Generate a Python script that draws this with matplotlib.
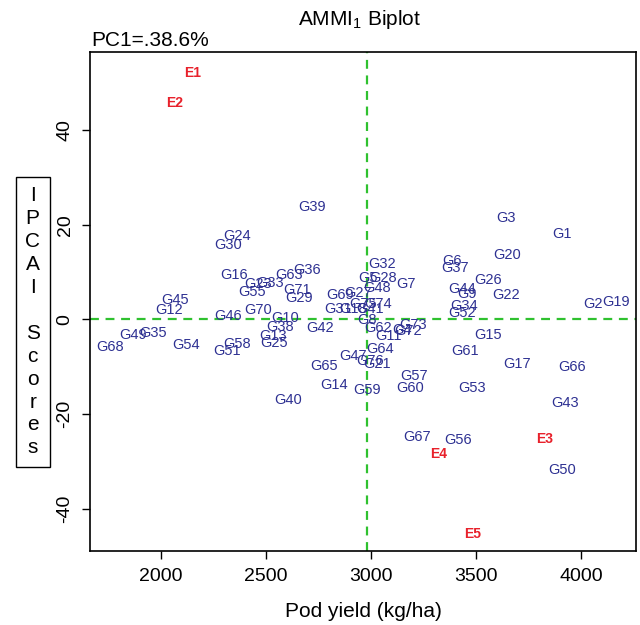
import matplotlib
matplotlib.use("Agg")
import matplotlib.pyplot as plt

plt.rcParams["font.family"] = ["Liberation Sans", "DejaVu Sans"]
plt.rcParams["mathtext.fontset"] = "custom"
plt.rcParams["mathtext.rm"] = "Liberation Sans"
plt.rcParams["mathtext.it"] = "Liberation Sans"
plt.rcParams["axes.unicode_minus"] = False

# genotype labels with mean pod yield and IPCA1 score
gen_labels = ["G1", "G2", "G3", "G4", "G5", "G6", "G7", "G8", "G9", "G10",
              "G11", "G12", "G13", "G14", "G15", "G16", "G17", "G18", "G19", "G20",
              "G21", "G22", "G23", "G24", "G25", "G26", "G27", "G28", "G29", "G30",
              "G31", "G32", "G33", "G34", "G35", "G36", "G37", "G38", "G39", "G40",
              "G41", "G42", "G43", "G44", "G45", "G46", "G47", "G48", "G49", "G50",
              "G51", "G52", "G53", "G54", "G55", "G56", "G57", "G58", "G59", "G60",
              "G61", "G62", "G63", "G64", "G65", "G66", "G67", "G68", "G69", "G70",
              "G71", "G72", "G73", "G74", "G75", "G76"]
gen_yield = [3910, 4057, 3643, 3148, 2986, 3386, 3167, 2981, 3457, 2590,
             3081, 2038, 2533, 2824, 3557, 2348, 3695, 2914, 4167, 3648,
             3029, 3643, 2462, 2362, 2538, 3557, 2938, 3057, 2657, 2319,
             2843, 3052, 2519, 3443, 1962, 2695, 3400, 2567, 2719, 2605,
             2995, 2757, 3924, 3433, 2067, 2319, 2914, 3029, 1867, 3910,
             2314, 3433, 3481, 2119, 2433, 3414, 3205, 2362, 2981, 3186,
             3448, 3033, 2610, 3043, 2776, 3957, 3219, 1757, 2852, 2462,
             2648, 3176, 3200, 3033, 2962, 2995]
gen_ipca = [18.1, 3.2, 21.3, -2.3, 8.8, 12.4, 7.4, -0.2, 5.3, 0.2,
            -3.6, 1.9, -3.6, -13.9, -3.4, 9.3, -9.5, 2.1, 3.6, 13.5,
            -9.5, 5.1, 7.4, 17.7, -5.1, 8.2, 5.5, 8.8, 4.4, 15.6,
            2.1, 11.6, 7.6, 2.9, -2.9, 10.5, 10.9, -1.7, 23.8, -17.1,
            2.1, -1.9, -17.7, 6.5, 4.0, 0.6, -7.8, 6.7, -3.4, -31.8,
            -6.7, 1.3, -14.5, -5.5, 5.7, -25.5, -12.0, -5.3, -14.9, -14.5,
            -6.7, -1.9, 9.3, -6.3, -9.9, -10.1, -24.8, -5.9, 5.1, 1.9,
            6.1, -2.5, -1.1, 3.2, 3.2, -8.8]

# environments
env_labels = ["E1", "E2", "E3", "E4", "E5"]
env_yield = [2152, 2062, 3824, 3319, 3481]
env_ipca = [52.0, 45.7, -25.3, -28.4, -45.3]

grand_mean = 2982
x_ticks = [2000, 2500, 3000, 3500, 4000]
y_ticks = [-40, -20, 0, 20, 40]

fig = plt.figure(figsize=(6.4, 6.25), dpi=100)
ax = fig.add_axes([0.141, 0.118, 0.853, 0.799])

ax.set_xlim(1662, 4262)
ax.set_ylim(-49, 56.5)

# reference lines at grand mean and zero IPCA
ax.axvline(grand_mean, color="#2fc12f", linestyle=(0, (4, 3)), linewidth=1.6, zorder=1)
ax.axhline(0, color="#2fc12f", linestyle=(0, (4, 3)), linewidth=1.6, zorder=1)

for lab, x, y in zip(gen_labels, gen_yield, gen_ipca):
    ax.text(x, y, lab, color="#2e3192", fontsize=10.5, ha="center", va="center", zorder=3)

for lab, x, y in zip(env_labels, env_yield, env_ipca):
    ax.text(x, y, lab, color="#e8212b", fontsize=10, fontweight="bold",
            ha="center", va="center", zorder=3)

ax.set_xticks(x_ticks)
ax.set_yticks(y_ticks)
ax.tick_params(direction="out", length=6, width=1, labelsize=14, pad=6)
for t in ax.get_yticklabels():
    t.set_rotation(90)
    t.set_va("center")
for s in ax.spines.values():
    s.set_linewidth(1.2)

ax.set_xlabel("Pod yield (kg/ha)", fontsize=15, labelpad=12)

fig.text(0.5625, 0.969, "AMMI$_1$ Biplot", fontsize=15, ha="center", va="center")
fig.text(0.143, 0.936, "PC1=.38.6%", fontsize=15, ha="left", va="center")

fig.text(0.051, 0.485, "I\nP\nC\nA\nI\n\nS\nc\no\nr\ne\ns", fontsize=15,
         ha="center", va="center", linespacing=1.26,
         bbox=dict(boxstyle="square,pad=0.45", facecolor="white", edgecolor="black", linewidth=1))

fig.savefig("out.png", dpi=100)
